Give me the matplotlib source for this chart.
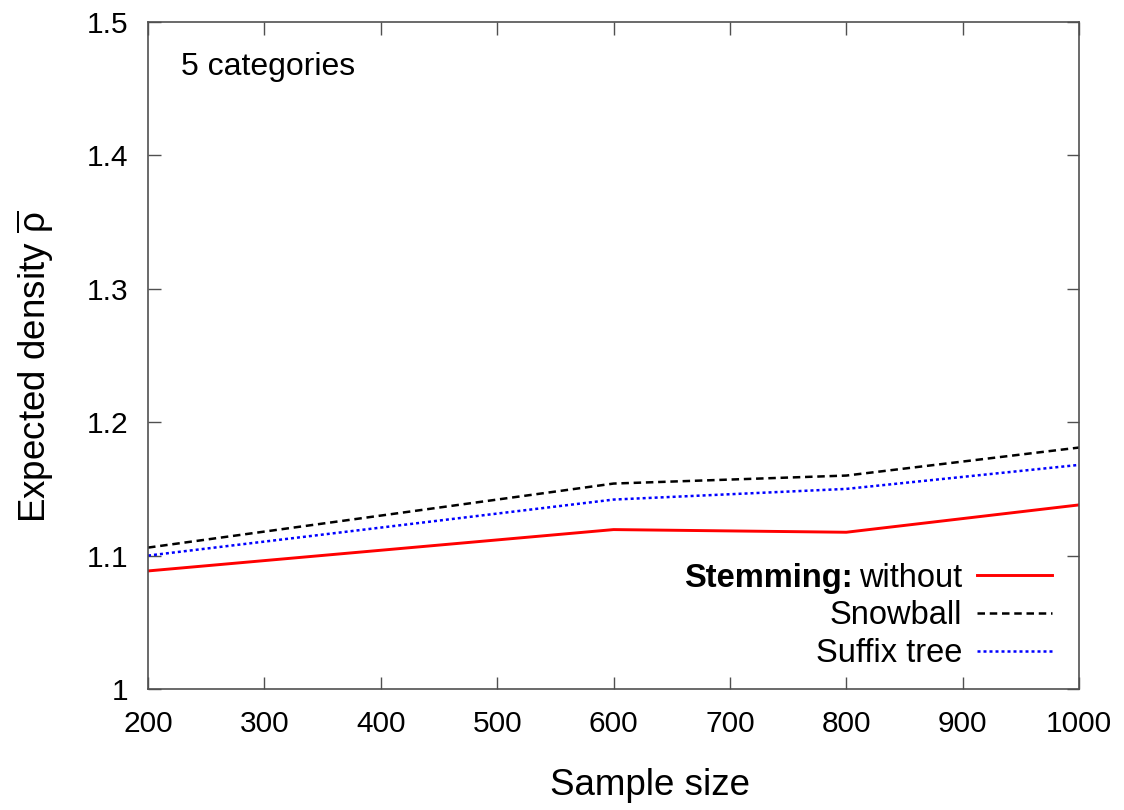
import matplotlib
matplotlib.use("Agg")
import matplotlib.pyplot as plt

plt.rcParams['font.family'] = ['Liberation Sans', 'DejaVu Sans']
plt.rcParams['mathtext.fontset'] = 'custom'
plt.rcParams['mathtext.rm'] = 'Liberation Sans'
plt.rcParams['mathtext.it'] = 'Liberation Sans'

sample = [200, 600, 800, 1000]
without = [1.0885, 1.1195, 1.1175, 1.138]
snowball = [1.106, 1.154, 1.160, 1.181]
suffix = [1.100, 1.142, 1.150, 1.168]

fig = plt.figure(figsize=(11.24, 8.10), dpi=100)
ax = fig.add_axes([0.1317, 0.1494, 0.8283, 0.8234])

ax.plot(sample, without, color='red', lw=2.1, label='without')
ax.plot(sample, snowball, color='black', lw=1.8, dashes=(3.0, 1.9), label='Snowball')
ax.plot(sample, suffix, color='blue', lw=1.8, dashes=(1.2, 1.2), label='Suffix tree')

ax.set_xlim(200, 1000)
ax.set_ylim(1, 1.5)
ax.set_xticks(range(200, 1001, 100))
ax.set_yticks([1, 1.1, 1.2, 1.3, 1.4, 1.5])
ax.set_yticklabels(['1', '1.1', '1.2', '1.3', '1.4', '1.5'])

for s in ax.spines.values():
    s.set_color('#505050')
    s.set_linewidth(1.2)
ax.tick_params(direction='in', length=9, width=1.0, color='#505050',
               top=True, right=True, labelsize=21.5, pad=14)
ax.tick_params(axis='x', pad=15)

ax.set_xlabel('Sample size', fontsize=26.5, labelpad=22)
ax.xaxis.label.set_x(0.539)
ax.set_ylabel(r'Expected density $\overline{\mathrm{\rho}}$', fontsize=26.5, labelpad=22)
ax.yaxis.label.set_y(0.484)

ax.text(0.035, 0.955, '5 categories', transform=ax.transAxes, fontsize=23,
        ha='left', va='top')

leg = ax.legend(loc='lower right', bbox_to_anchor=(0.971, 0.03), frameon=False,
                markerfirst=False, fontsize=23.5, handlelength=2.3, handletextpad=0.45,
                labelspacing=0.2, borderpad=0, borderaxespad=0)
# bold prefix in front of the first legend entry (drawn after the legend)
ax.annotate('Stemming:', xy=(0, 0), xycoords=leg.get_texts()[0],
            xytext=(-5, 0), textcoords='offset points',
            ha='right', va='bottom', fontsize=23.5, fontweight='bold', zorder=10)

plt.savefig('out.png', dpi=100)
